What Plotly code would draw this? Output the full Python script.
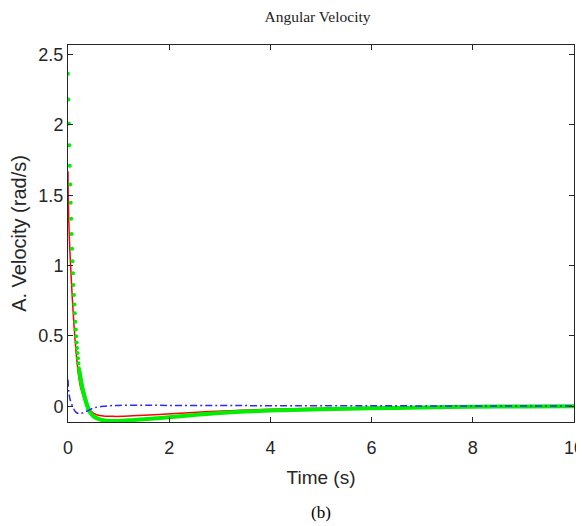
import plotly.graph_objects as go

# Green series: early sampled points (drawn as dots) and later trajectory
green_dot_t = [i * 0.009 for i in range(46)]
green_dot_v = [2.364, 2.18, 2.01, 1.855, 1.71, 1.576, 1.447, 1.332, 1.225, 1.12,
               1.03, 0.945, 0.862, 0.79, 0.724, 0.661, 0.600, 0.545, 0.497, 0.454,
               0.414, 0.378, 0.342, 0.306, 0.27, 0.25, 0.23, 0.21, 0.19, 0.172,
               0.155, 0.138, 0.124, 0.110, 0.097, 0.084, 0.072, 0.060, 0.048, 0.037,
               0.026, 0.016, 0.006, -0.004, -0.013, -0.022]
green_late_t = [0.45, 0.5, 0.6, 0.7, 0.85, 1.0, 1.2, 1.5, 2.0, 2.5, 3.0, 3.5, 4.0,
                5.0, 6.0, 7.0, 8.0, 9.0, 10.0]
green_late_v = [-0.05, -0.07, -0.09, -0.1, -0.105, -0.105, -0.1, -0.093, -0.078,
                -0.062, -0.048, -0.038, -0.031, -0.022, -0.015, -0.009, -0.004,
                -0.001, 0.0]

red_t = [0, 0.005, 0.015, 0.03, 0.05, 0.07, 0.09, 0.114, 0.14, 0.16, 0.18, 0.21,
         0.246, 0.28, 0.31, 0.35, 0.4, 0.44, 0.5, 0.58, 0.7, 0.9, 1.1, 1.4, 1.8,
         2.3, 2.8, 3.4, 4.0, 5.0, 6.0, 7.0, 8.0, 9.0, 10.0]
red_v = [1.67, 1.48, 1.32, 1.17, 1.01, 0.87, 0.74, 0.6, 0.47, 0.385, 0.306, 0.215,
         0.138, 0.095, 0.063, 0.03, -0.005, -0.029, -0.048, -0.062, -0.069, -0.072,
         -0.071, -0.066, -0.058, -0.048, -0.038, -0.029, -0.022, -0.014, -0.009,
         -0.005, -0.003, -0.001, 0.0]

blue_t = [0, 0.016, 0.04, 0.08, 0.15, 0.21, 0.28, 0.38, 0.51, 0.7, 1.0, 1.5, 2.0,
          3.0, 4.0, 6.0, 8.0, 10.0]
blue_v = [0.19, 0.1, 0.05, 0.007, -0.04, -0.052, -0.048, -0.034, -0.012, 0.0,
          0.006, 0.007, 0.006, 0.005, 0.004, 0.003, 0.002, 0.001]

x_ticks = [0, 2, 4, 6, 8, 10]
y_ticks = [0, 0.5, 1, 1.5, 2, 2.5]
y_tick_labels = ["0", "0.5", "1", "1.5", "2", "2.5"]

axis_col = "#262626"

# The page body has an 8px default margin, so the figure is 8px smaller
W, H = 576, 518

fig = go.Figure()
fig.add_trace(go.Scatter(x=red_t, y=red_v, mode="lines",
                         line=dict(color="#ff0000", width=1.5, shape="spline"),
                         showlegend=False))
line_t = [t for t in green_dot_t if t >= 0.22] + green_late_t
line_v = [v for t, v in zip(green_dot_t, green_dot_v) if t >= 0.22] + green_late_v
fig.add_trace(go.Scatter(x=line_t, y=line_v, mode="lines",
                         line=dict(color="#00ee00", width=4, shape="spline"),
                         showlegend=False))
fig.add_trace(go.Scatter(x=green_dot_t, y=green_dot_v, mode="markers",
                         marker=dict(color="#00ee00", size=4),
                         showlegend=False))
fig.add_trace(go.Scatter(x=blue_t, y=blue_v, mode="lines",
                         line=dict(color="#2a2aff", width=1.5, shape="spline",
                                   dash="7px,3px,2px,3px"),
                         showlegend=False))

axis_common = dict(showline=True, linecolor=axis_col, linewidth=1, mirror="ticks",
                   ticks="inside", ticklen=5, tickcolor=axis_col, showgrid=False,
                   zeroline=False, automargin=False, ticklabeloverflow="allow",
                   tickfont=dict(family="Liberation Sans, Arial", size=18, color=axis_col))

fig.update_layout(
    width=W, height=H,
    margin=dict(l=59.5, r=10, t=36.7, b=104.3),
    paper_bgcolor="white", plot_bgcolor="white",
    title=dict(text="Angular Velocity", x=309.5 / W, xanchor="center", y=1 - 8.5 / H,
               yanchor="middle",
               font=dict(family="Liberation Serif, Times New Roman", size=15.5, color="#222222")),
    xaxis=dict(range=[0, 10], tickvals=x_ticks, ticktext=[str(v) for v in x_ticks],
               ticklabelstandoff=9,
               title=dict(text="Time (s)", standoff=14,
                          font=dict(family="Liberation Sans, Arial", size=19, color=axis_col)),
               **axis_common),
    yaxis=dict(range=[-0.112, 2.568], tickvals=y_ticks, ticktext=y_tick_labels,
               title=dict(text="A. Velocity (rad/s)", standoff=8,
                          font=dict(family="Liberation Sans, Arial", size=20, color=axis_col)),
               **axis_common),
    annotations=[dict(text="(b)", xref="paper", yref="paper", x=0.5, y=-0.239,
                      xanchor="center", yanchor="middle", showarrow=False,
                      font=dict(family="Liberation Serif, Times New Roman", size=17, color="#000000"))],
)

fig.write_html("out.html")
